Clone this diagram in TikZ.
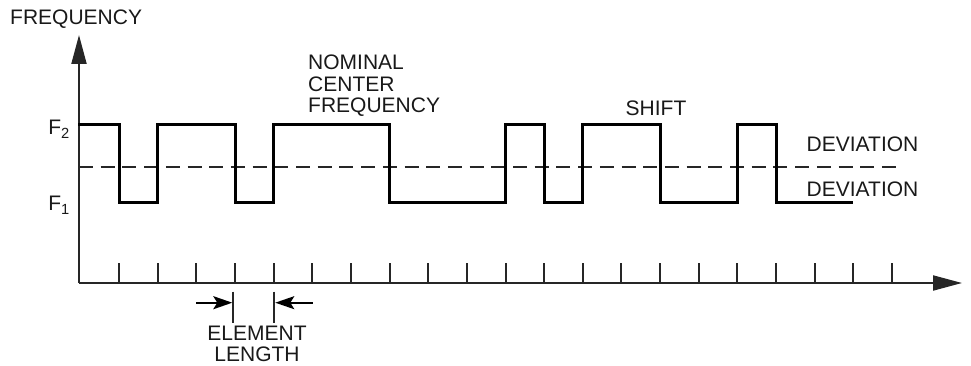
\documentclass[tikz,border=0pt]{standalone}
\usepackage{fontspec}
\setmainfont{Liberation Sans}
\usetikzlibrary{arrows.meta}
\begin{document}
\begin{tikzpicture}[x=1pt,y=-1pt,
  lbl/.style={font=\fontsize{21pt}{21.5pt}\selectfont, inner sep=0pt, text=black!90},
  axis/.style={line width=2pt, black!85, -{Triangle[length=29pt,width=15pt]}},
  sig/.style={line width=3pt, line join=miter, line cap=rect},
  mid/.style={line width=2pt, black!85, dash pattern=on 14pt off 7.7pt},
  tick/.style={line width=2pt, black!85},
  dim/.style={line width=2pt, black, -{Stealth[length=19pt,width=13pt,inset=4pt]}}]
\useasboundingbox (0,0) rectangle (971,366);
% axes
\coordinate (O) at (79,283);
\coordinate (ytop) at (79,35);
\coordinate (xend) at (962,283);
\draw[axis] (O) -- (ytop);
\draw[axis] (O) -- (xend);
\foreach \k in {0,...,20}
  \draw[tick] (119+38.65*\k,283) -- (119+38.65*\k,263);
% nominal centre (dashed)
\coordinate (c0) at (79,166.7);
\coordinate (c1) at (898,166.7);
\draw[mid] (c0) -- (c1);
% signal
\draw[sig] (79,125) -| (119,202) -| (157.65,125) -| (235,202) -| (273.6,125)
  -| (389.6,202) -| (505.5,125) -| (544.2,202) -| (582.8,125) -| (660.1,202)
  -| (737.4,125) -| (776.05,202) -- (851,202);
% labels
\node[lbl, anchor=base west] (freq) at (10,25) {FREQUENCY};
\node[lbl, anchor=base east] (f2) at (70,135) {F\textsubscript{2}};
\node[lbl, anchor=base east] (f1) at (70,211) {F\textsubscript{1}};
\node[lbl, anchor=base west, align=left] (nom) at (308,112.7) {NOMINAL\\CENTER\\FREQUENCY};
\node[lbl, anchor=base west] (shift) at (625.5,116) {SHIFT};
\node[lbl, anchor=base west] (dev1) at (806.5,151.7) {DEVIATION};
\node[lbl, anchor=base west] (dev2) at (806.5,196.7) {DEVIATION};
\node[lbl, anchor=base, align=center] (el) at (257,361.7) {ELEMENT\\LENGTH};
% element length marker
\coordinate (e1t) at (233.3,291.7);
\coordinate (e1b) at (233.3,322.7);
\coordinate (e2t) at (274.3,291.7);
\coordinate (e2b) at (274.3,322.7);
\draw[tick] (e1t) -- (e1b);
\draw[tick] (e2t) -- (e2b);
\coordinate (a1s) at (196,302.7);
\coordinate (a1e) at (232.3,302.7);
\coordinate (a2s) at (312.7,302.7);
\coordinate (a2e) at (275.3,302.7);
\draw[dim] (a1s) -- (a1e);
\draw[dim] (a2s) -- (a2e);
\end{tikzpicture}
\end{document}
